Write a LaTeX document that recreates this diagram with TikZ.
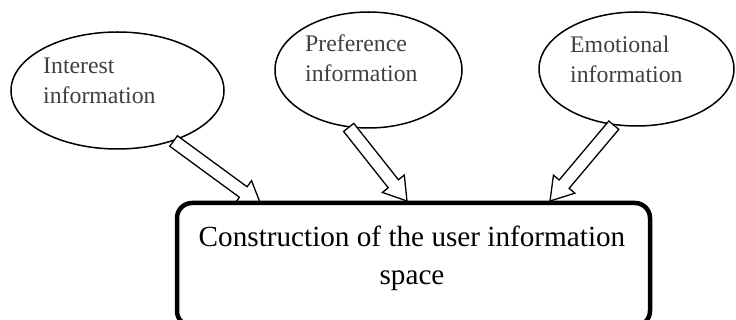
\documentclass[tikz,border=0pt]{standalone}
\usepackage{fontspec}
\setmainfont{Liberation Serif}
\usetikzlibrary{shapes.geometric,calc}
\definecolor{labelgray}{HTML}{404040}
\tikzset{
  info/.style={ellipse, draw, line width=1.5pt, fill=white, inner sep=0pt},
  infotext/.style={anchor=base west, align=left, font=\fontsize{23.8}{30.5}\selectfont, text=labelgray, inner sep=0pt},
  mainbox/.style={draw, line width=4.5pt, rounded corners=15pt, fill=white, inner sep=0pt},
  maintext/.style={anchor=base, align=center, font=\fontsize{29.2}{38}\selectfont, inner sep=0pt},
  fatarrow/.style={draw, line width=1.3pt, fill=white, line join=miter},
}
\newcommand\myfatarrow[2]{%
  \coordinate (hb) at ($(#2)!22pt!(#1)$);
  \draw[fatarrow] ($(#1)!6.5pt!90:(#2)$) -- ($(hb)!6.5pt!90:(#2)$) -- ($(hb)!14pt!90:(#2)$)
    -- (#2) -- ($(hb)!14pt!-90:(#2)$) -- ($(hb)!6.5pt!-90:(#2)$) -- ($(#1)!6.5pt!-90:(#2)$) -- cycle;
}
\begin{document}
\begin{tikzpicture}[x=1pt,y=-1pt]
\useasboundingbox (0,0) rectangle (736,320);
\clip (0,0) rectangle (736,320);
% ellipses
\node[info, minimum width=213pt, minimum height=117pt] (e1) at (117.5,90.5) {};
\node[info, minimum width=187pt, minimum height=116pt] (e2) at (368.5,70) {};
\node[info, minimum width=195pt, minimum height=114pt] (e3) at (636.5,69) {};
\node[infotext] (e1t) at (43,104) {Interest\\information};
\node[infotext] (e2t) at (305,82) {Preference\\information};
\node[infotext] (e3t) at (570,83) {Emotional\\information};
% arrows
\coordinate (s1) at (e1.-42);
\coordinate (s2) at (e2.-109);
\coordinate (s3) at (e3.-112);
\coordinate (t1) at (261,205);
\coordinate (t2) at (407,201);
\coordinate (t3) at (550,201);
\myfatarrow{s1}{t1}
\myfatarrow{s2}{t2}
\myfatarrow{s3}{t3}
% main box
\node[mainbox, minimum width=473pt, minimum height=123pt] (box) at (413.5,264.5) {};
\node[maintext] (boxt) at (412,285) {Construction of the user information\\space};
\end{tikzpicture}
\end{document}
